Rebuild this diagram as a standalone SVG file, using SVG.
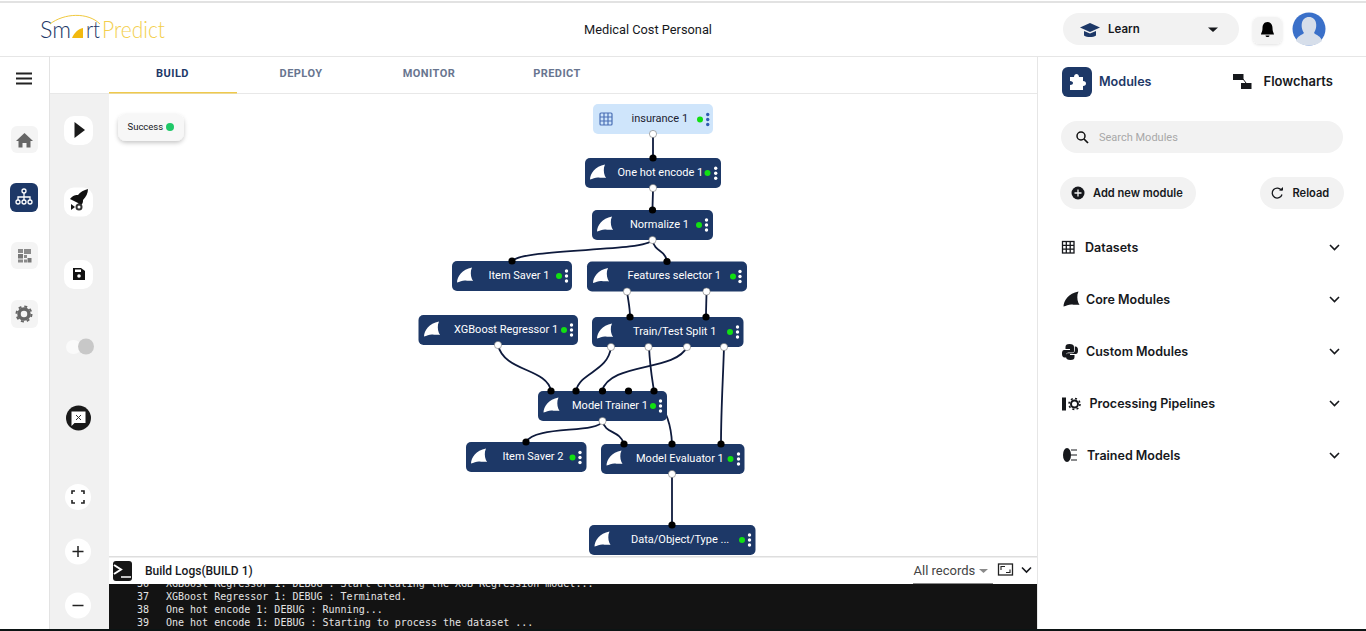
<svg xmlns="http://www.w3.org/2000/svg" width="1366" height="631" viewBox="0 0 1366 631">
<style>
text{font-family:Roboto,"Liberation Sans",sans-serif}
.nb{fill:#1d3867}
.nt{fill:#fff;font-size:11px}
.tab{font-size:11px;font-weight:700;fill:#68758f;text-anchor:middle;letter-spacing:.45px}
.ui{font-family:Inter,"Noto Sans",sans-serif;font-weight:600;fill:#16181c}
.log{font-family:"DejaVu Sans Mono","Liberation Mono",monospace;font-size:10px;fill:#e4e4e4}
.logo{font-family:Lato,sans-serif;font-weight:300;font-size:23px}
.c{fill:none;stroke:#0e1a3c;stroke-width:1.800}
.in{fill:#000}
.out{fill:#fff;stroke:#777;stroke-width:.6}
.ok{fill:#12e012}
.pill{fill:#f2f2f2}
.btn{fill:#fff}
.side{fill:#f4f4f4}
.chev{fill:none;stroke:#16181c;stroke-width:1.600}
</style>
<defs>
<path id="fin" d="M0 15C0 9 5 2 15 0L14 3C13.500 7 14 10 16 13.500C13 12.500 11 14 9 13C6 12.500 3 14 0 15Z"/>
<filter id="sh" x="-20%" y="-30%" width="140%" height="170%"><feDropShadow dx="0" dy="2" stdDeviation="2" flood-color="#000" flood-opacity=".22"/></filter>
<filter id="sh2" x="-20%" y="-20%" width="140%" height="140%"><feDropShadow dx="0" dy="1" stdDeviation="1.500" flood-color="#000" flood-opacity=".12"/></filter>
<clipPath id="logclip"><rect x="109" y="584" width="928" height="47"/></clipPath>
<g id="kb"><circle cy="-5" r="1.700"/><circle r="1.700"/><circle cy="5" r="1.700"/></g>
</defs>

<rect width="1366" height="631" fill="#fff"/>
<rect width="1366" height="2" y="1" fill="#e2e2e2"/>
<rect x="0" y="56" width="1366" height="1" fill="#e6e6e6"/>
<rect x="50" y="94" width="59" height="537" fill="#f1f1f1"/>
<rect x="49" y="56" width="1" height="575" fill="#e3e3e3"/>
<rect x="50" y="93" width="987" height="1" fill="#e8e8e8"/>
<rect x="1037" y="57" width="1" height="574" fill="#e6e6e6"/>

<g id="logo">
<path d="M50 24C64 13 88 12 100 24" fill="none" stroke="#f0c93e" stroke-width="1"/>
<text class="logo" x="40" y="38" fill="#1d3867" textLength="31" lengthAdjust="spacingAndGlyphs">Sm</text>
<path d="M72 38C74 33 78 29 83 28L83 38Z" fill="#f2b90f"/>
<text class="logo" x="86" y="38" fill="#1d3867" textLength="14" lengthAdjust="spacingAndGlyphs">rt</text>
<text class="logo" x="102" y="38" fill="#f3cf4d" textLength="63" lengthAdjust="spacingAndGlyphs">Predict</text>
</g>
<text x="648" y="34" font-size="12.800" text-anchor="middle" fill="#16181c">Medical Cost Personal</text>

<g id="header-right">
<rect class="pill" x="1063" y="13" width="176" height="32" rx="16"/>
<path d="M1090 23L1100 27.500L1090 32L1080 27.500Z" fill="#1d3867"/><path d="M1084 31V35.500C1087 37.500 1093 37.500 1096 35.500V31L1090 33.500Z" fill="#1d3867"/>
<text class="ui" x="1108" y="33" font-size="11.500">Learn</text>
<path d="M1208 27.500H1218L1213 32Z" fill="#16181c"/>
<rect x="1253" y="17" width="29" height="27" rx="6" fill="#f3f3f3" filter="url(#sh2)"/>
<path d="M1267.500 22C1264 22 1262.500 25 1262.500 28C1262.500 32 1261 33 1261 34.500H1274C1274 33 1272.500 32 1272.500 28C1272.500 25 1271 22 1267.500 22ZM1265.500 35.500H1269.500C1269.500 37.500 1265.500 37.500 1265.500 35.500Z" fill="#000"/>
<circle cx="1309" cy="29" r="16.500" fill="#3a70c9"/>
<path d="M1296 41C1297 36 1302 35 1304 33C1300 27 1301 17 1309 17C1317 17 1318 27 1314 33C1316 35 1321 36 1322 41C1315 47 1303 47 1296 41Z" fill="#d6deea"/>
</g>

<g id="tabs">
<text class="tab" x="172.500" y="77" style="fill:#1d3867">BUILD</text>
<text class="tab" x="301" y="77">DEPLOY</text>
<text class="tab" x="429" y="77">MONITOR</text>
<text class="tab" x="557" y="77">PREDICT</text>
<rect x="109" y="92" width="128" height="1.500" fill="#efc94c"/>
</g>

<g id="sidebar">
<path d="M16 74.500H32M16 79.500H32M16 84.500H32" transform="translate(0 -1)" stroke="#222" stroke-width="2"/>
<rect class="side" x="11" y="126" width="27" height="27" rx="6"/>
<path d="M24.500 133L33 141H30.500V147.500H26.500V143H22.500V147.500H18.500V141H16Z" fill="#666"/>
<rect x="10" y="183" width="28" height="29" rx="6" fill="#1d3867"/>
<g fill="none" stroke="#fff" stroke-width="1.300"><circle cx="24" cy="191" r="2"/><circle cx="18" cy="202" r="2"/><circle cx="24" cy="202" r="2"/><circle cx="30" cy="202" r="2"/><path d="M24 193V200M18 200V197H30V200"/></g>
<rect class="side" x="11" y="242" width="27" height="27" rx="6"/>
<g fill="#8a8a8a"><rect x="18" y="249" width="5" height="4"/><rect x="24" y="249" width="7" height="5"/><rect x="18" y="254" width="5" height="4.500" fill="#777"/><rect x="18" y="259.500" width="5" height="3"/><rect x="24" y="255" width="3" height="3"/><rect x="27.500" y="258" width="4" height="4.500" fill="#777"/><rect x="24" y="259.500" width="3" height="3"/></g>
<rect class="side" x="11" y="300" width="27" height="28" rx="6"/>
<circle cx="24" cy="314" r="5" fill="none" stroke="#666" stroke-width="3.500"/><circle cx="24" cy="314" r="7.500" fill="none" stroke="#666" stroke-width="2" stroke-dasharray="3 2.900"/>
</g>

<g id="toolbar">
<rect class="btn" x="64" y="116" width="29" height="29" rx="10"/><path d="M74.500 122L85 130L74.500 138Z" fill="#1a1a1a"/>
<rect class="btn" x="64" y="187.500" width="29" height="29" rx="10"/>
<path d="M70 199C73 195 76 195 78 195C80 192 84 190 88 189C88 193 86 197 83 200C83 202 83 204 80 206L78 203L74 201Z" fill="#111"/><path d="M71 204L75 207L71 210Z" fill="#111"/><circle cx="79" cy="207" r="3.500" fill="#333"/><circle cx="79" cy="207" r="1.500" fill="#fff"/>
<rect class="btn" x="64" y="260" width="29" height="29" rx="10"/>
<path d="M73 268H81L85 271V280H73Z" fill="#111"/><circle cx="79" cy="276" r="1.800" fill="#fff"/><rect x="75" y="269.500" width="6" height="2.500" fill="#fff"/>
<rect x="66" y="340" width="15" height="14" rx="7" fill="#fafafa"/><circle cx="86" cy="346.500" r="8" fill="#c8c8c8"/>
<circle cx="78.500" cy="418" r="12.500" fill="#1a1a1a"/><path d="M71.500 411.500H85.500V423H74.500L71.500 426Z" fill="#fff"/><path d="M76 415L81 420M81 415L76 420" stroke="#333" stroke-width="1"/>
<circle class="btn" cx="78" cy="497" r="13"/><path d="M72 494V491H75M81 491H84V494M84 500V503H81M75 503H72V500" fill="none" stroke="#222" stroke-width="1.600"/>
<circle class="btn" cx="78" cy="551.500" r="13"/><path d="M72.500 551.500H83.500M78 546V557" stroke="#222" stroke-width="1.500"/>
<circle class="btn" cx="78" cy="605.500" r="13"/><path d="M72.500 605.500H83.500" stroke="#222" stroke-width="1.500"/>
</g>

<g id="status">
<rect x="118" y="114" width="66" height="27" rx="8" fill="#f7f7f7" filter="url(#sh)"/>
<text x="127.500" y="130" font-size="9.500" fill="#16181c">Success</text>
<circle cx="170" cy="127" r="4" fill="#1fc868"/>
</g>

<g id="connectors">
<path class="c" d="M653 134V158"/>
<path class="c" d="M653 188C653 196 652.500 202 652.500 210"/>
<path class="c" d="M652.500 240C645 252 525 248 512 261"/>
<path class="c" d="M652.500 240C655 253 665 249 667 261"/>
<path class="c" d="M627 291C628 300 630 307 630 317"/>
<path class="c" d="M706.500 291C706.500 300 706 307 706 317"/>
<path class="c" d="M498 345C504 372 547 368 551 391"/>
<path class="c" d="M611 347C608 372 580 372 576 391"/>
<path class="c" d="M687 347C675 372 610 362 602 391"/>
<path class="c" d="M649 347C650 368 652 378 654 391C660 405 671 415 672 444"/>
<path class="c" d="M724 347C723 380 721 410 721 444"/>
<path class="c" d="M602.500 421C598 434 535 425 526 442"/>
<path class="c" d="M602.500 421C605 434 620 430 624 444"/>
<path class="c" d="M672 474V525"/>
</g>

<g id="n-insurance">
<rect x="593" y="104" width="120" height="30" rx="5" fill="#cfe5fb"/>
<g fill="none" stroke="#4a6fb5" stroke-width="1.200"><rect x="600" y="113" width="12" height="12" rx="1"/><path d="M604 113V125M608 113V125M600 117H612M600 121H612"/></g>
<text x="631.500" y="122" font-size="11" fill="#1c2230">insurance 1</text>
<circle class="ok" cx="700" cy="119.500" r="3"/><use href="#kb" x="707.700" y="119.500" fill="#2f5bb0"/>
<circle class="out" cx="653" cy="134" r="3.600"/>
</g>
<g id="n-onehot">
<rect class="nb" x="585" y="158" width="136" height="30" rx="5"/><use href="#fin" x="590" y="164.500" fill="#fff"/>
<text class="nt" x="617.500" y="176">One hot encode 1</text>
<circle class="ok" cx="707.500" cy="173" r="3"/><use href="#kb" x="715.700" y="173.300" fill="#fff"/>
<circle class="in" cx="653" cy="158" r="3.600"/><circle class="out" cx="653" cy="188" r="3.600"/>
</g>
<g id="n-normalize">
<rect class="nb" x="592" y="210" width="121" height="30" rx="5"/><use href="#fin" x="597" y="216.500" fill="#fff"/>
<text class="nt" x="630" y="228">Normalize 1</text>
<circle class="ok" cx="699" cy="225" r="3"/><use href="#kb" x="706.500" y="225" fill="#fff"/>
<circle class="in" cx="652.500" cy="210" r="3.600"/><circle class="out" cx="652.500" cy="240" r="3.600"/>
</g>
<g id="n-itemsaver1">
<rect class="nb" x="452" y="261" width="120" height="30" rx="5"/><use href="#fin" x="457" y="267.500" fill="#fff"/>
<text class="nt" x="488.500" y="279">Item Saver 1</text>
<circle class="ok" cx="559" cy="276" r="3"/><use href="#kb" x="566.500" y="276" fill="#fff"/>
<circle class="in" cx="512" cy="261" r="3.600"/>
</g>
<g id="n-features">
<rect class="nb" x="587" y="261.500" width="160" height="30" rx="5"/><use href="#fin" x="593" y="268" fill="#fff"/>
<text class="nt" x="627.500" y="279">Features selector 1</text>
<circle class="ok" cx="733" cy="276.500" r="3"/><use href="#kb" x="740" y="276.500" fill="#fff"/>
<circle class="in" cx="667" cy="261.500" r="3.600"/><circle class="out" cx="627" cy="291.500" r="3.600"/><circle class="out" cx="706.500" cy="291.500" r="3.600"/>
</g>
<g id="n-xgboost">
<rect class="nb" x="418.500" y="315" width="159.500" height="30" rx="5"/><use href="#fin" x="424" y="321.500" fill="#fff"/>
<text class="nt" x="454" y="333">XGBoost Regressor 1</text>
<circle class="ok" cx="564" cy="330" r="3"/><use href="#kb" x="571.500" y="330" fill="#fff"/>
<circle class="out" cx="498" cy="345" r="3.600"/>
</g>
<g id="n-split">
<rect class="nb" x="592" y="317" width="151.500" height="30" rx="5"/><use href="#fin" x="597" y="323.500" fill="#fff"/>
<text class="nt" x="633" y="335">Train/Test Split 1</text>
<circle class="ok" cx="730" cy="332" r="3"/><use href="#kb" x="737.500" y="332" fill="#fff"/>
<circle class="in" cx="630" cy="317" r="3.600"/><circle class="in" cx="706" cy="317" r="3.600"/>
<circle class="out" cx="611" cy="347" r="3.600"/><circle class="out" cx="648.500" cy="347" r="3.600"/><circle class="out" cx="687" cy="347" r="3.600"/><circle class="out" cx="724" cy="347" r="3.600"/>
</g>
<g id="n-trainer">
<rect class="nb" x="538" y="391" width="129" height="30" rx="5"/><use href="#fin" x="543.500" y="397.500" fill="#fff"/>
<text class="nt" x="572" y="409">Model Trainer 1</text>
<circle class="ok" cx="653" cy="406" r="3"/><use href="#kb" x="660.500" y="406" fill="#fff"/>
<circle class="in" cx="551" cy="391" r="3.600"/><circle class="in" cx="576" cy="391" r="3.600"/><circle class="in" cx="602.500" cy="391" r="3.600"/><circle class="in" cx="628.500" cy="391" r="3.600"/><circle class="in" cx="654" cy="391" r="3.600"/>
<circle class="out" cx="602.500" cy="421" r="3.600"/>
</g>
<g id="n-itemsaver2">
<rect class="nb" x="466" y="442" width="120.500" height="30" rx="5"/><use href="#fin" x="471" y="448.500" fill="#fff"/>
<text class="nt" x="502.500" y="460">Item Saver 2</text>
<circle class="ok" cx="572.500" cy="457.500" r="3"/><use href="#kb" x="580" y="457.500" fill="#fff"/>
<circle class="in" cx="526" cy="442" r="3.600"/>
</g>
<g id="n-evaluator">
<rect class="nb" x="601" y="444" width="143.500" height="30" rx="5"/><use href="#fin" x="606.500" y="450.500" fill="#fff"/>
<text class="nt" x="636" y="462">Model Evaluator 1</text>
<circle class="ok" cx="730.500" cy="459" r="3"/><use href="#kb" x="738.500" y="459" fill="#fff"/>
<circle class="in" cx="624" cy="444" r="3.600"/><circle class="in" cx="672" cy="444" r="3.600"/><circle class="in" cx="721" cy="444" r="3.600"/>
<circle class="out" cx="672" cy="474" r="3.600"/>
</g>
<g id="n-data">
<rect class="nb" x="589" y="525" width="166.500" height="30" rx="5"/><use href="#fin" x="594.500" y="531.500" fill="#fff"/>
<text class="nt" x="631" y="543">Data/Object/Type ...</text>
<circle class="ok" cx="742" cy="540" r="3"/><use href="#kb" x="749.500" y="540" fill="#fff"/>
<circle class="in" cx="672" cy="525" r="3.600"/>
</g>

<g id="logs">
<rect x="109" y="556.500" width="928" height="28" fill="#fff"/>
<rect x="109" y="556" width="928" height="1.500" fill="#dedede"/>
<rect x="113" y="561" width="19" height="20" rx="3" fill="#161616"/>
<path d="M114 565L121 569.500L114 574" fill="none" stroke="#fff" stroke-width="2"/><path d="M121 577H131" stroke="#fff" stroke-width="1.500"/>
<text x="145" y="575" font-size="12" font-weight="500" fill="#16181c">Build Logs(BUILD 1)</text>
<text x="913.500" y="575" font-size="13" fill="#444">All records</text>
<path d="M979 569H988L983.500 573Z" fill="#8a8a8a"/>
<rect x="913" y="583" width="80" height="1" fill="#888"/>
<rect x="998.500" y="564" width="14" height="11" fill="none" stroke="#222" stroke-width="1.300"/>
<path d="M1001 570V566.500H1005M1010 569.500V572.500H1006" fill="none" stroke="#222" stroke-width="1.100"/>
<path class="chev" d="M1022 567.500L1026.500 572L1031 567.500"/>
<rect x="109" y="584" width="928" height="47" fill="#131313"/>
<g clip-path="url(#logclip)">
<text class="log" x="137" y="587">36</text><text class="log" x="166" y="587">XGBoost Regressor 1: DEBUG : Start creating the XGB Regression model...</text>
<text class="log" x="137" y="600">37</text><text class="log" x="166" y="600">XGBoost Regressor 1: DEBUG : Terminated.</text>
<text class="log" x="137" y="613">38</text><text class="log" x="166" y="613">One hot encode 1: DEBUG : Running...</text>
<text class="log" x="137" y="626">39</text><text class="log" x="166" y="626">One hot encode 1: DEBUG : Starting to process the dataset ...</text>
</g>
<rect x="0" y="629" width="1366" height="2" fill="#0c1414"/>
</g>

<g id="modules-panel">
<rect x="1062" y="67" width="30" height="30" rx="6" fill="#1d3867"/>
<path d="M1070 77H1074C1074 73 1079 73 1079 77H1083V81C1087 81 1087 86 1083 86V90H1070V85C1074 85 1074 81 1070 81Z" fill="#fff"/>
<text class="ui" x="1099" y="86" font-size="12.600" style="fill:#1d3867">Modules</text>
<g fill="#16181c"><rect x="1233" y="74" width="10.500" height="6"/><rect x="1241" y="83" width="10.500" height="6"/></g><path d="M1243 79L1246 83" stroke="#16181c"/>
<text class="ui" x="1263.500" y="86" font-size="13">Flowcharts</text>
<rect class="pill" x="1061" y="121" width="282" height="32" rx="16"/>
<circle cx="1081" cy="136" r="4" fill="none" stroke="#111" stroke-width="1.500"/><path d="M1084 139L1088 143" stroke="#111" stroke-width="1.700"/>
<text x="1099" y="141" font-size="11" fill="#a8a8a8">Search Modules</text>
<rect class="pill" x="1060" y="177" width="136" height="32" rx="16"/>
<circle cx="1078" cy="193" r="6.500" fill="#16181c"/><path d="M1074.500 193H1081.500M1078 189.500V196.500" stroke="#f2f2f2" stroke-width="1.300"/>
<text class="ui" x="1093" y="197" font-size="11.100">Add new module</text>
<rect class="pill" x="1260" y="177" width="84" height="32" rx="16"/>
<path d="M1281.500 190.500A5 5 0 1 0 1282 194.500" fill="none" stroke="#16181c" stroke-width="1.300"/><path d="M1279 190.500H1283V187Z" fill="#16181c"/>
<text class="ui" x="1292.500" y="197" font-size="11.100">Reload</text>

<g fill="none" stroke="#16181c" stroke-width="1.300"><rect x="1062.500" y="241.500" width="11.500" height="11.500"/><path d="M1066.300 241.500V253M1070.200 241.500V253M1062.500 245.300H1074M1062.500 249.200H1074"/></g>
<text class="ui" x="1085" y="252" font-size="12.500">Datasets</text>
<path class="chev" d="M1330 245L1334.500 249.500L1339 245"/>
<use href="#fin" x="1063.500" y="291.500" fill="#16181c"/>
<text class="ui" x="1086" y="304" font-size="12.500">Core Modules</text>
<path class="chev" d="M1330 297L1334.500 301.500L1339 297"/>
<path d="M1069.500 344C1066.500 344 1065.500 345 1065.500 347V349H1070V350H1064C1062 350 1062 353 1062 354C1062 356 1063 357.500 1064.500 357.500H1066V355C1066 353.500 1067 352.500 1068.500 352.500H1072.500C1073.500 352.500 1074 352 1074 351V347C1074 345 1072.500 344 1069.500 344Z" fill="#16181c"/>
<path d="M1070.500 360C1073.500 360 1074.500 359 1074.500 357V355H1070V354H1076C1078 354 1078 351 1078 350C1078 348 1077 346.500 1075.500 346.500H1074.800V349.500C1074.800 352 1074 353.300 1072 353.300H1067.500C1066.800 353.300 1066 354 1066 355V357C1066 359 1067.500 360 1070.500 360Z" fill="#16181c"/>
<text class="ui" x="1086" y="356" font-size="12.500">Custom Modules</text>
<path class="chev" d="M1330 349L1334.500 353.500L1339 349"/>
<rect x="1062" y="397.500" width="4" height="13" fill="#16181c"/><circle cx="1074.500" cy="404" r="3.500" fill="none" stroke="#16181c" stroke-width="2"/><circle cx="1074.500" cy="404" r="5.500" fill="none" stroke="#16181c" stroke-width="1.600" stroke-dasharray="2 2.300"/>
<text class="ui" x="1089.500" y="408" font-size="12.500">Processing Pipelines</text>
<path class="chev" d="M1330 401L1334.500 405.500L1339 401"/>
<ellipse cx="1067" cy="455" rx="4" ry="7" fill="#16181c"/><path d="M1071 450H1077M1071 455H1077M1071 460H1077" stroke="#16181c"/>
<text class="ui" x="1087" y="460" font-size="12.500">Trained Models</text>
<path class="chev" d="M1330 453L1334.500 457.500L1339 453"/>
</g>
</svg>
